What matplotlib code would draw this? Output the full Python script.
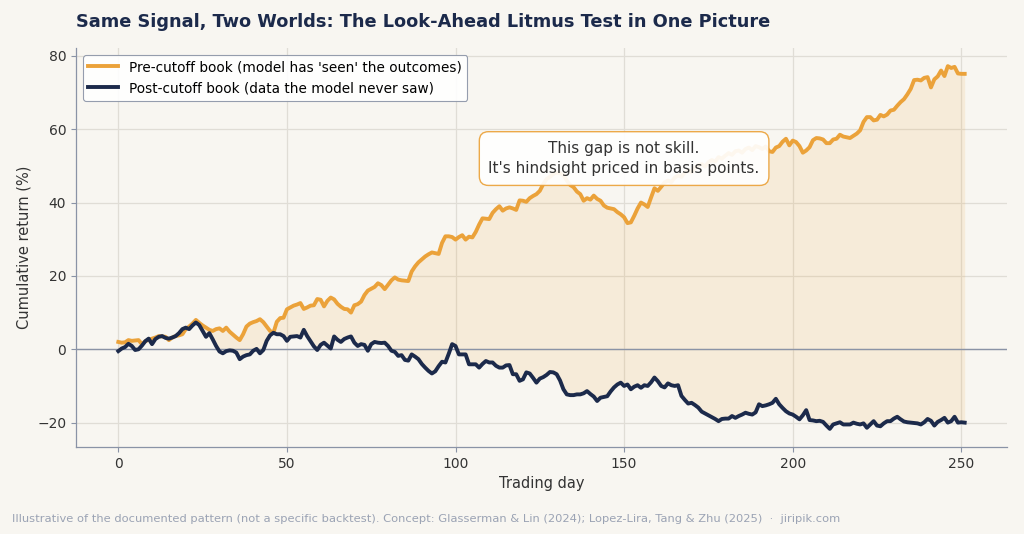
import numpy as np
import matplotlib
matplotlib.use("Agg")
import matplotlib.pyplot as plt

pre_cutoff = [
    2.0, 1.8, 1.9, 2.5, 2.3, 2.4, 2.5, 1.4, 2.2, 2.6,
    2.9, 3.2, 3.6, 3.5, 3.4, 2.5, 3.2, 3.6, 3.8, 4.1,
    5.5, 6.2, 7.0, 8.0, 7.2, 6.5, 5.9, 5.3, 5.0, 5.5,
    5.7, 5.0, 5.9, 4.8, 4.0, 3.2, 2.5, 4.1, 6.2, 7.0,
    7.4, 7.7, 8.2, 7.4, 6.2, 5.0, 4.5, 7.5, 8.5, 8.6,
    10.9, 11.4, 11.9, 12.2, 12.6, 11.0, 11.4, 11.9, 12.0, 13.7,
    13.5, 11.7, 13.2, 14.1, 13.6, 12.4, 11.6, 11.0, 10.9, 10.0,
    12.0, 12.3, 13.0, 14.8, 16.0, 16.5, 17.0, 18.0, 17.5, 16.4,
    17.6, 18.8, 19.6, 19.0, 18.8, 18.7, 18.6, 21.2, 22.6, 23.7,
    24.5, 25.3, 25.9, 26.4, 26.2, 26.0, 29.0, 30.8, 30.8, 30.6,
    29.9, 30.6, 31.1, 29.9, 30.7, 30.5, 32.0, 34.0, 35.7, 35.6,
    35.5, 37.2, 38.2, 39.0, 37.8, 38.4, 38.7, 38.4, 38.0, 40.6,
    40.5, 40.2, 41.2, 41.8, 42.3, 43.2, 45.0, 46.4, 47.0, 47.8,
    48.2, 48.0, 47.5, 46.0, 44.8, 44.2, 43.0, 42.3, 40.5, 41.2,
    40.8, 41.9, 41.0, 40.5, 39.2, 38.6, 38.4, 38.2, 37.4, 36.8,
    36.0, 34.4, 34.6, 36.4, 38.4, 40.0, 39.5, 38.8, 41.4, 43.9,
    43.2, 44.3, 45.5, 46.0, 45.6, 46.8, 47.4, 47.0, 48.2, 48.8,
    48.3, 49.5, 50.2, 50.5, 49.8, 51.0, 51.6, 51.2, 52.4, 52.0,
    52.8, 53.5, 53.0, 54.0, 54.2, 53.6, 54.6, 55.0, 54.3, 55.4,
    55.1, 54.6, 55.3, 54.0, 53.8, 55.0, 55.4, 56.6, 57.4, 55.6,
    56.9, 56.5, 55.4, 53.6, 54.2, 55.1, 57.0, 57.6, 57.5, 57.2,
    56.2, 56.2, 57.2, 57.4, 58.5, 58.0, 57.8, 57.6, 58.2, 58.8,
    59.7, 62.0, 63.3, 63.3, 62.4, 62.6, 63.9, 63.5, 64.0, 65.1,
    65.3, 66.4, 67.4, 68.2, 69.5, 71.0, 73.4, 73.5, 73.3, 74.0,
    74.2, 71.4, 73.6, 74.4, 76.0, 74.5, 77.2, 76.7, 77.0, 75.2,
    75.1, 75.1,
]

post_cutoff = [
    -0.5, 0.2, 0.6, 1.5, 0.9, -0.2, 0.0, 1.0, 2.2, 2.9,
    1.4, 2.8, 3.4, 3.6, 3.1, 2.9, 3.2, 3.6, 4.4, 5.5,
    5.9, 5.5, 6.5, 7.3, 6.6, 5.0, 3.4, 4.4, 2.7, 0.9,
    -0.6, -1.1, -0.5, -0.3, -0.4, -0.9, -2.7, -2.0, -1.6, -1.4,
    -0.4, 0.1, -1.1, -0.2, 2.3, 3.8, 4.5, 4.1, 4.1, 3.6,
    2.3, 3.4, 3.5, 3.6, 3.2, 5.3, 3.6, 2.2, 0.8, -0.2,
    1.2, 1.8, 1.0, 0.2, 3.5, 2.6, 2.0, 2.8, 3.2, 3.5,
    1.8, 0.9, 1.4, 1.2, -0.4, 1.4, 2.0, 1.8, 1.7, 1.8,
    0.9, -0.4, -0.7, -1.8, -1.6, -2.9, -3.1, -1.4, -2.0, -2.7,
    -4.0, -5.0, -5.9, -6.6, -6.0, -4.6, -3.4, -3.6, -1.2, 1.4,
    0.9, -1.4, -1.4, -1.4, -4.1, -4.1, -4.1, -5.0, -4.0, -3.2,
    -3.6, -3.6, -4.5, -5.0, -5.0, -4.4, -4.3, -6.8, -6.8, -8.6,
    -8.2, -6.3, -6.6, -7.8, -9.1, -8.0, -7.6, -7.0, -6.2, -6.3,
    -6.8, -8.5, -10.9, -12.3, -12.5, -12.5, -12.3, -12.3, -12.0, -11.4,
    -12.2, -12.9, -14.1, -13.2, -13.0, -12.8, -11.5, -10.4, -9.6, -9.1,
    -10.0, -9.6, -10.9, -10.2, -9.8, -10.5, -9.8, -10.0, -9.0, -7.7,
    -8.7, -10.0, -10.4, -9.3, -9.8, -10.0, -9.8, -12.7, -13.8, -14.8,
    -14.6, -15.2, -15.9, -17.0, -17.5, -18.0, -18.5, -19.0, -19.6, -19.0,
    -18.9, -18.9, -18.2, -18.7, -18.2, -17.8, -17.3, -17.6, -17.8, -17.2,
    -15.0, -15.5, -15.3, -15.0, -14.6, -13.5, -15.0, -16.0, -16.9, -17.5,
    -17.8, -18.4, -19.1, -18.0, -16.6, -19.3, -19.4, -19.6, -19.5, -19.8,
    -20.8, -21.7, -20.5, -20.2, -19.9, -20.5, -20.5, -20.5, -20.0, -20.3,
    -20.5, -20.2, -21.4, -20.5, -19.6, -20.8, -21.0, -20.2, -19.6, -19.6,
    -18.9, -18.4, -19.1, -19.7, -19.9, -20.0, -20.1, -20.2, -20.5, -19.9,
    -19.0, -19.5, -20.8, -19.8, -19.3, -18.7, -20.0, -19.6, -18.4, -20.0,
    -19.9, -20.0,
]

days = np.arange(len(pre_cutoff))

title = "Same Signal, Two Worlds: The Look-Ahead Litmus Test in One Picture"
label_pre = "Pre-cutoff book (model has 'seen' the outcomes)"
label_post = "Post-cutoff book (data the model never saw)"
annotation = "This gap is not skill.\nIt's hindsight priced in basis points."
footnote = ("Illustrative of the documented pattern (not a specific backtest). "
            "Concept: Glasserman & Lin (2024); Lopez-Lira, Tang & Zhu (2025)  \u00b7  jiripik.com")

BG = "#f8f6f1"
ORANGE = "#eba23a"
NAVY = "#1c2a4b"
GRID = "#e0ddd6"
SPINE = "#8a93a6"

plt.rcParams['font.family'] = ['DejaVu Sans']
fig = plt.figure(figsize=(10.24, 5.34), dpi=100, facecolor=BG)
ax = fig.add_axes([76/1024, 1-447/534, (1007-76)/1024, (447-48)/534])
ax.set_facecolor(BG)

ax.fill_between(days, post_cutoff, pre_cutoff, color=ORANGE, alpha=0.13, linewidth=0, zorder=1)
ax.axhline(0, color=SPINE, lw=1.0, zorder=2)
ax.plot(days, pre_cutoff, color=ORANGE, lw=2.8, label=label_pre, zorder=3)
ax.plot(days, post_cutoff, color=NAVY, lw=2.8, label=label_post, zorder=4)

ax.grid(True, color=GRID, lw=0.9, zorder=0)
ax.set_axisbelow(True)
for s in ["top", "right"]:
    ax.spines[s].set_visible(False)
for s in ["left", "bottom"]:
    ax.spines[s].set_color(SPINE)
    ax.spines[s].set_linewidth(0.9)
ax.tick_params(colors="#333333", labelsize=10, length=3.5, width=0.8)
ax.tick_params(axis='both', color=SPINE)

ax.set_xlabel("Trading day", fontsize=10.5, color="#333333")
ax.set_ylabel("Cumulative return (%)", fontsize=10.5, color="#333333")

leg = ax.legend(loc="upper left", fontsize=9.8, frameon=True, facecolor="white",
                edgecolor=SPINE, framealpha=0.9, borderaxespad=0.5, handlelength=2.2)
leg.get_frame().set_linewidth(0.8)

ax.text(150, 52, annotation, ha="center", va="center", fontsize=11, color="#333333",
        linespacing=1.45, zorder=6,
        bbox=dict(boxstyle="round,pad=0.6,rounding_size=0.6", facecolor="white",
                  edgecolor=ORANGE, alpha=0.92, linewidth=1.0))

fig.text(76/1024, 1-22/534, title, fontsize=12.8, fontweight="bold", color=NAVY,
         ha="left", va="center")
fig.text(12/1024, 1-519/534, footnote, fontsize=8.25, color="#9ba3b4", ha="left", va="center")

fig.savefig("out.png", dpi=100, facecolor=BG)
